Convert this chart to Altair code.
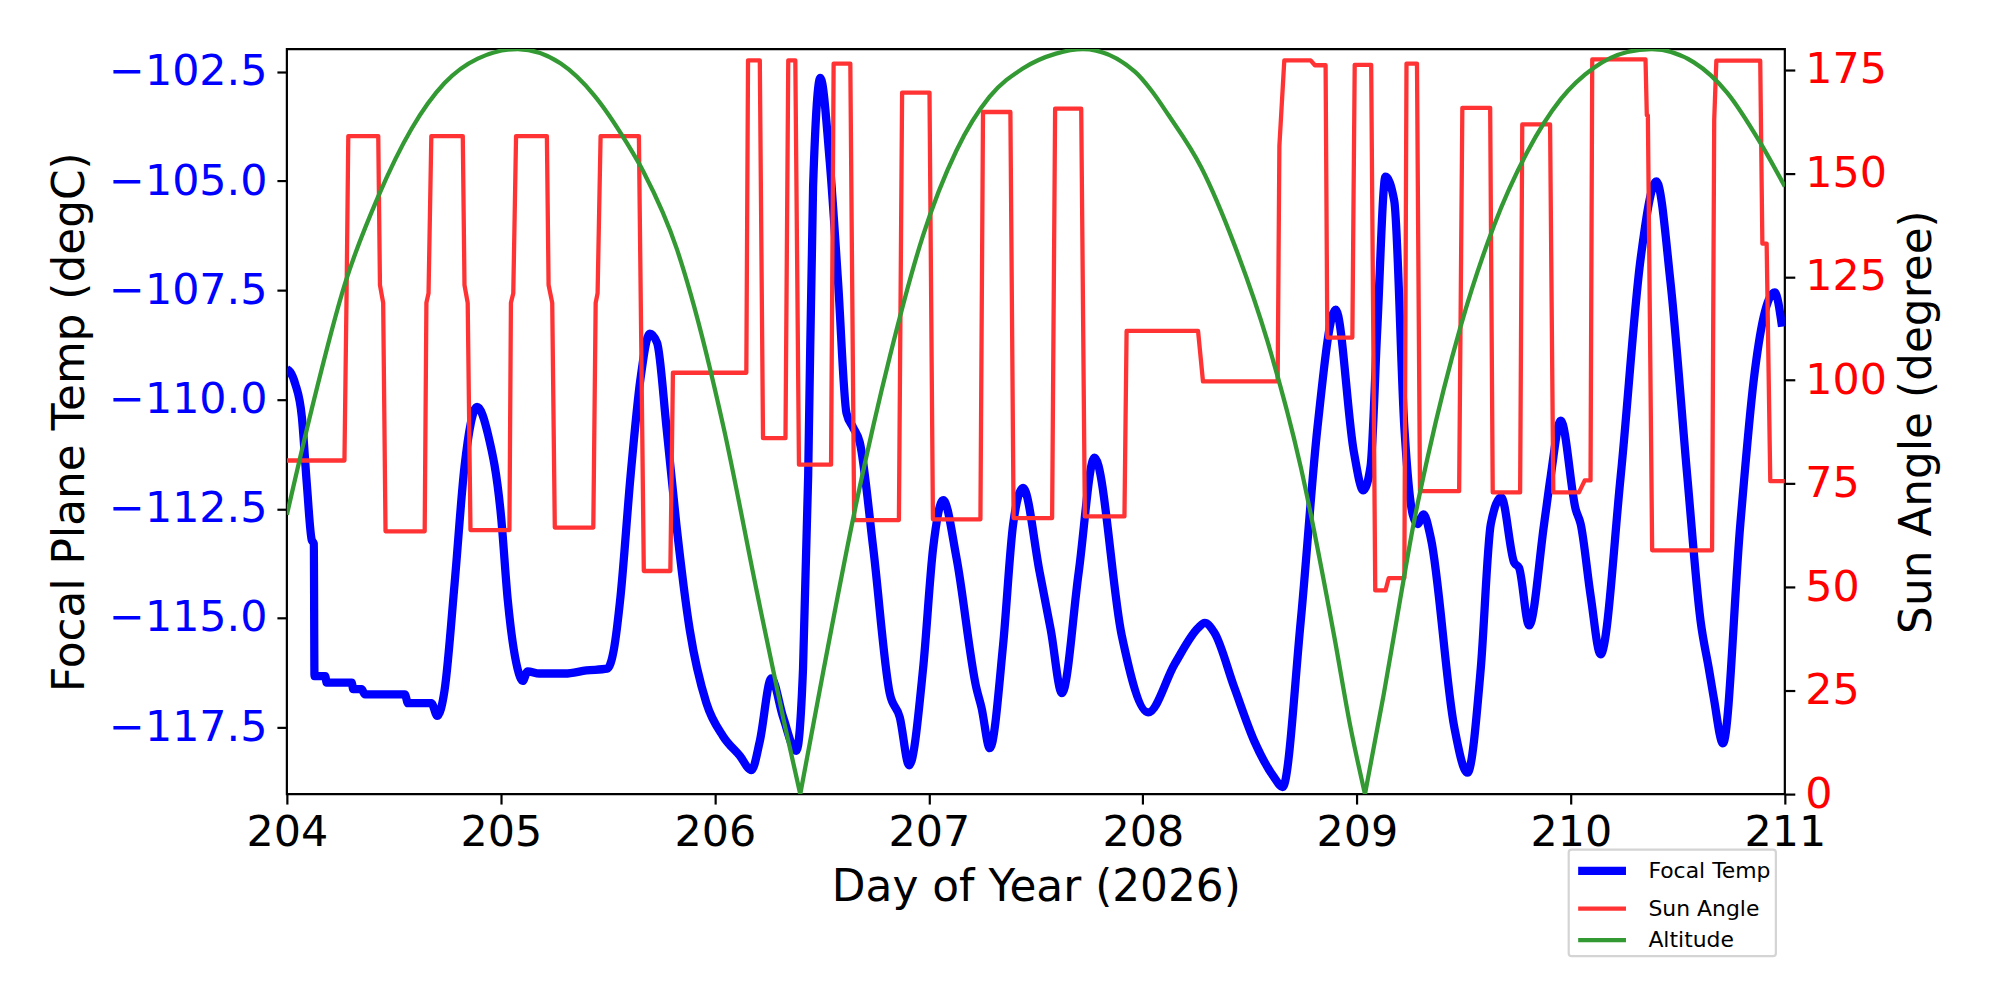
import altair as alt
import pandas as pd

# ---------------- data ----------------
temp_day = [204.000, 204.016, 204.039, 204.070, 204.093, 204.116, 204.126, 204.129, 204.179, 204.186,
            204.303, 204.310, 204.349, 204.365, 204.551, 204.566, 204.675, 204.703, 204.737, 204.784,
            204.830, 204.889, 204.939, 205.001, 205.032, 205.078, 205.102, 205.125, 205.180, 205.300,
            205.400, 205.497, 205.528, 205.559, 205.606, 205.652, 205.696, 205.730, 205.774, 205.820,
            205.883, 205.960, 206.039, 206.116, 206.171, 206.210, 206.264, 206.319, 206.381, 206.412,
            206.436, 206.459, 206.493, 206.537, 206.576, 206.615, 206.646, 206.677, 206.740, 206.817,
            206.864, 206.908, 206.973, 207.020, 207.067, 207.129, 207.222, 207.246, 207.285, 207.347,
            207.394, 207.440, 207.518, 207.570, 207.622, 207.700, 207.774, 207.901, 208.025, 208.149,
            208.258, 208.289, 208.335, 208.428, 208.521, 208.614, 208.653, 208.738, 208.816, 208.901,
            208.986, 209.030, 209.064, 209.095, 209.134, 209.175, 209.222, 209.261, 209.284, 209.312,
            209.346, 209.455, 209.517, 209.579, 209.626, 209.675, 209.735, 209.758, 209.805, 209.875,
            209.906, 209.953, 210.023, 210.046, 210.093, 210.139, 210.233, 210.326, 210.400, 210.466,
            210.544, 210.606, 210.645, 210.668, 210.711, 210.792, 210.855, 210.901, 210.953, 210.987]
temp_val = [-109.30, -109.37, -109.64, -110.40, -111.92, -113.21, -113.30, -116.33, -116.33, -116.48,
            -116.48, -116.63, -116.63, -116.75, -116.75, -116.95, -116.95, -117.24, -116.65, -114.20,
            -111.54, -110.17, -110.78, -112.68, -114.58, -116.16, -116.44, -116.22, -116.27, -116.27,
            -116.20, -116.16, -115.72, -114.51, -111.75, -109.54, -108.49, -108.70, -110.64, -112.85,
            -115.28, -116.94, -117.71, -118.15, -118.48, -117.82, -116.38, -117.27, -118.04, -116.16,
            -111.75, -105.13, -102.64, -104.57, -107.33, -110.31, -110.64, -110.98, -113.40, -116.72,
            -117.27, -118.37, -116.16, -113.40, -112.30, -113.62, -116.60, -117.05, -117.98, -115.61,
            -112.85, -112.02, -113.96, -115.28, -116.72, -113.96, -111.33, -115.39, -117.16, -116.05,
            -115.23, -115.11, -115.34, -116.60, -117.82, -118.65, -118.87, -115.06, -110.64, -107.94,
            -111.20, -112.08, -111.53, -108.44, -104.90, -105.46, -110.64, -112.63, -112.85, -112.63,
            -113.18, -117.49, -118.54, -116.16, -112.85, -112.24, -113.73, -113.85, -115.17, -112.85,
            -111.75, -110.48, -112.52, -112.85, -114.51, -115.83, -111.75, -106.78, -105.01, -107.33,
            -111.75, -115.06, -116.16, -116.83, -117.87, -112.85, -109.54, -108.11, -107.55, -108.33]

sun_day = [204.000, 204.269, 204.279, 204.287, 204.427, 204.435, 204.450, 204.461, 204.644, 204.652,
           204.662, 204.675, 204.822, 204.830, 204.845, 204.858, 205.040, 205.047, 205.058, 205.071,
           205.215, 205.223, 205.240, 205.252, 205.432, 205.443, 205.452, 205.466, 205.645, 205.668,
           205.792, 205.804, 206.147, 206.155, 206.210, 206.225, 206.330, 206.343, 206.376, 206.393,
           206.543, 206.555, 206.633, 206.651, 206.860, 206.875, 207.003, 207.019, 207.241, 207.253,
           207.381, 207.396, 207.576, 207.590, 207.712, 207.729, 207.914, 207.924, 208.258, 208.281,
           208.630, 208.638, 208.661, 208.784, 208.804, 208.854, 208.862, 208.979, 208.990, 209.067,
           209.086, 209.134, 209.149, 209.222, 209.232, 209.281, 209.295, 209.478, 209.493, 209.623,
           209.635, 209.763, 209.773, 209.903, 209.918, 210.038, 210.065, 210.092, 210.100, 210.349,
           210.355, 210.360, 210.380, 210.660, 210.670, 210.680, 210.885, 210.895, 210.915, 210.932,
           211.000]
sun_val = [80.6, 80.6, 121.0, 159.0, 159.0, 123.0, 118.7, 63.5, 63.5, 118.7,
           121.0, 159.0, 159.0, 123.0, 118.7, 63.8, 63.8, 118.7, 121.0, 159.0,
           159.0, 123.0, 118.7, 64.4, 64.4, 118.7, 121.0, 159.0, 159.0, 53.9,
           53.9, 101.8, 101.8, 177.3, 177.3, 86.0, 86.0, 177.3, 177.3, 79.6,
           79.6, 176.5, 176.5, 66.2, 66.2, 169.5, 169.5, 66.4, 66.4, 164.8,
           164.8, 66.7, 66.7, 165.6, 165.6, 67.1, 67.1, 111.9, 111.9, 99.7,
           99.7, 156.6, 177.3, 177.3, 176.1, 176.1, 110.3, 110.3, 176.2, 176.2,
           49.2, 49.2, 52.2, 52.2, 176.5, 176.5, 73.2, 73.2, 165.8, 165.8,
           72.9, 72.9, 161.8, 161.8, 72.9, 72.9, 75.8, 75.8, 177.5, 177.5,
           164.0, 164.0, 58.9, 58.9, 163.0, 177.2, 177.2, 133.0, 133.0, 75.6,
           75.6]

alt_day = [204.000, 204.116, 204.272, 204.427, 204.582, 204.737, 204.892, 205.078, 205.280, 205.435,
           205.590, 205.668, 205.823, 205.886, 206.042, 206.197, 206.321, 206.399, 206.508, 206.663,
           206.818, 206.973, 207.129, 207.284, 207.439, 207.594, 207.720, 207.964, 208.040, 208.118,
           208.273, 208.428, 208.583, 208.738, 208.894, 208.971, 209.038, 209.126, 209.204, 209.264,
           209.331, 209.485, 209.642, 209.795, 209.953, 210.108, 210.264, 210.378, 210.575, 210.730,
           210.885, 211.000]
alt_val = [67.5, 93.0, 123.4, 144.4, 160.7, 171.8, 177.7, 180.0, 176.5, 168.9,
           157.2, 150.2, 131.6, 121.0, 88.3, 48.7, 18.0, 0.0, 30.0, 70.8,
           105.8, 135.0, 155.5, 168.5, 175.3, 178.9, 180.0, 174.5, 170.0, 164.2,
           151.4, 132.7, 109.3, 79.0, 38.2, 16.0, 0.0, 24.2, 47.5, 65.0,
           81.4, 113.0, 137.5, 155.0, 167.9, 175.5, 179.3, 180.0, 176.8, 169.5,
           157.4, 146.8]

series_names = ["Focal Temp", "Sun Angle", "Altitude"]
series_colors = ["#0000ff", "#ff3333", "#339933"]
series_widths = [8.3, 4.3, 4.3]
x_ticks = [204, 205, 206, 207, 208, 209, 210, 211]
left_ticks = [-117.5, -115.0, -112.5, -110.0, -107.5, -105.0, -102.5]
right_ticks = [0, 25, 50, 75, 100, 125, 150, 175]

# ---------------- tables ----------------
temp_df = pd.DataFrame({"day": temp_day, "val": temp_val, "series": "Focal Temp"})
sun_df = pd.DataFrame({"day": sun_day, "val": sun_val, "series": "Sun Angle"})
rows = []
arc = 0
for d, v in zip(alt_day, alt_val):
    rows.append({"day": d, "val": v, "arc": arc, "series": "Altitude"})
    if v == 0:
        arc += 1
        rows.append({"day": d, "val": v, "arc": arc, "series": "Altitude"})
alt_df = pd.DataFrame(rows)

FONT = "DejaVu Sans"

x_enc = alt.X("day:Q",
              scale=alt.Scale(domain=[204, 211], nice=False, zero=False),
              axis=alt.Axis(values=x_ticks, format="d", title="Day of Year (2026)",
                            labelPadding=8, titleBaseline="alphabetic", titleY=106.4))

legend_def = alt.Legend(
    orient="none", legendX=1287, legendY=803.7,
    symbolType="M-1,0H3", symbolSize=576,
    labelFont=FONT, labelFontSize=22, labelColor="black", labelOffset=42,
    padding=5, rowPadding=5.7,
    strokeColor="#d4d4d4", fillColor="white", cornerRadius=3,
)

color_enc = alt.Color("series:N", scale=alt.Scale(domain=series_names, range=series_colors),
                      title=None, legend=legend_def)
width_enc = alt.StrokeWidth("series:N",
                            scale=alt.Scale(type="ordinal", domain=series_names, range=series_widths),
                            title=None, legend=legend_def)

blue = alt.Chart(temp_df).mark_line(
    interpolate="monotone", clip=True, strokeJoin="round"
).encode(
    x=x_enc,
    y=alt.Y("val:Q",
            scale=alt.Scale(domain=[-119.03, -101.98], nice=False, zero=False),
            axis=alt.Axis(orient="left", values=left_ticks, format=".1f", labelColor="#0000ff",
                          title="Focal Plane Temp (degC)", titleAngle=270, titleBaseline="alphabetic",
                          titleAlign="center", titleX=-204, titleY=374, labelPadding=10)),
    color=color_enc,
    strokeWidth=width_enc,
)

right_y = alt.Y("val:Q",
                scale=alt.Scale(domain=[0, 180], nice=False, zero=False),
                axis=alt.Axis(orient="right", values=right_ticks, format="d", labelColor="#ff0000",
                              title="Sun Angle (degree)", titleAngle=270, titleBaseline="alphabetic",
                              titleAlign="center", titleX=146.3, titleY=374, labelPadding=10))

red = alt.Chart(sun_df).mark_line(clip=True, strokeJoin="round").encode(
    x=x_enc, y=right_y, color=color_enc, strokeWidth=width_enc,
)

green = alt.Chart(alt_df).mark_line(
    interpolate="monotone", clip=True, strokeJoin="round"
).encode(
    x=x_enc, y=right_y, color=color_enc, strokeWidth=width_enc, detail="arc:N",
)

right = alt.layer(red, green)

chart = alt.layer(blue, right).resolve_scale(y="independent").properties(
    width=1504, height=748,
    autosize=alt.AutoSizeParams(type="none"),
    padding={"left": 280, "top": 39.3, "right": 208, "bottom": 190},
).configure_axis(
    labelFont=FONT, titleFont=FONT, labelFontSize=43, titleFontSize=44,
    titleFontWeight="normal", titleColor="black",
    tickSize=10, tickWidth=2.2, tickColor="black",
    domain=False, grid=False, labelFlush=False, labelOverlap=False,
).configure_legend(
    strokeWidth=2.2,
).configure_view(stroke="black", strokeWidth=2.2)

chart.save("out.html", embed_options={"renderer": "svg", "actions": False})
